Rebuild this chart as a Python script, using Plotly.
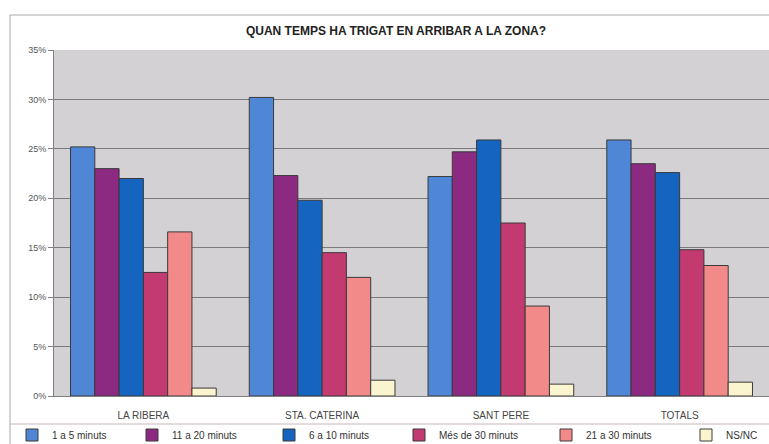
import plotly.graph_objects as go

categories = ["LA RIBERA", "STA. CATERINA", "SANT PERE", "TOTALS"]
series_names = ["1 a 5 minuts", "11 a 20 minuts", "6 a 10 minuts",
                "Més de 30 minuts", "21 a 30 minuts", "NS/NC"]
v_1a5 = [0.252, 0.302, 0.222, 0.259]
v_11a20 = [0.230, 0.223, 0.247, 0.235]
v_6a10 = [0.220, 0.198, 0.259, 0.226]
v_mes30 = [0.125, 0.145, 0.175, 0.148]
v_21a30 = [0.166, 0.120, 0.091, 0.132]
v_nsnc = [0.008, 0.016, 0.012, 0.014]
series_values = [v_1a5, v_11a20, v_6a10, v_mes30, v_21a30, v_nsnc]
colors = ["#4f86d6", "#8c2a82", "#1565c0", "#c23a70", "#f38a8a", "#fbf5cf"]
y_ticks = [0, 0.05, 0.10, 0.15, 0.20, 0.25, 0.30, 0.35]
legend_left_px = [12, 132, 269, 399, 546, 686]

W, H = 769, 444
L, R, T, B = 54, 0, 50, 48
pw, ph = W - L - R, H - T - B

def px_x(x):
    return (x - L) / pw

def px_y(y):
    return (H - B - y) / ph

fig = go.Figure()
legend_layouts = {}
for i, (name, vals, col) in enumerate(zip(series_names, series_values, colors)):
    lname = "legend" if i == 0 else f"legend{i + 1}"
    fig.add_trace(go.Bar(
        x=categories, y=vals, name=name, legend=lname,
        marker=dict(color=col, line=dict(color="#3a3a3a", width=1)),
    ))
    legend_layouts[lname] = dict(
        orientation="h",
        x=px_x(legend_left_px[i]), xanchor="left",
        y=px_y(435), yanchor="middle",
        font=dict(size=10, color="#333"),
        itemwidth=30,
        bgcolor="rgba(0,0,0,0)",
        borderwidth=0,
    )

fig.update_layout(
    width=W, height=H,
    margin=dict(l=L, r=R, t=T, b=B, autoexpand=False),
    paper_bgcolor="white",
    plot_bgcolor="#d4d1d4",
    barmode="group",
    bargap=0.185,
    bargroupgap=0,
    font=dict(family="Liberation Sans, Arial, sans-serif", size=10, color="#444"),
    title=dict(
        text="<b>QUAN TEMPS HA TRIGAT EN ARRIBAR A LA ZONA?</b>",
        x=396 / W, xanchor="center",
        y=1 - 31 / H, yanchor="middle",
        font=dict(size=12, color="#222"),
    ),
    xaxis=dict(
        showgrid=False, showline=True, linecolor="#808080", linewidth=1,
        ticks="", tickfont=dict(size=10, color="#444"),
        ticklabelstandoff=10,
    ),
    yaxis=dict(
        range=[0, 0.35], tickvals=y_ticks, tickformat=".0%",
        showgrid=True, gridcolor="#7a7a7a", gridwidth=1,
        showline=True, linecolor="#808080", linewidth=1,
        ticks="outside", ticklen=5, tickcolor="#808080",
        tickfont=dict(size=9, color="#555"),
        zeroline=False,
    ),
    showlegend=True,
    **legend_layouts,
)

# outer chart frame and separator line
fig.add_shape(type="rect", xref="paper", yref="paper",
              x0=px_x(10), x1=px_x(775), y0=px_y(450), y1=px_y(15),
              line=dict(color="#a8a8a8", width=1), layer="below")
fig.add_shape(type="line", xref="paper", yref="paper",
              x0=px_x(10), x1=px_x(775), y0=px_y(424), y1=px_y(424),
              line=dict(color="#c8b8b8", width=1))

fig.write_html(
    "out.html",
    config={"displayModeBar": False},
    post_script="document.body.style.margin='0';document.body.style.overflow='hidden';",
)
